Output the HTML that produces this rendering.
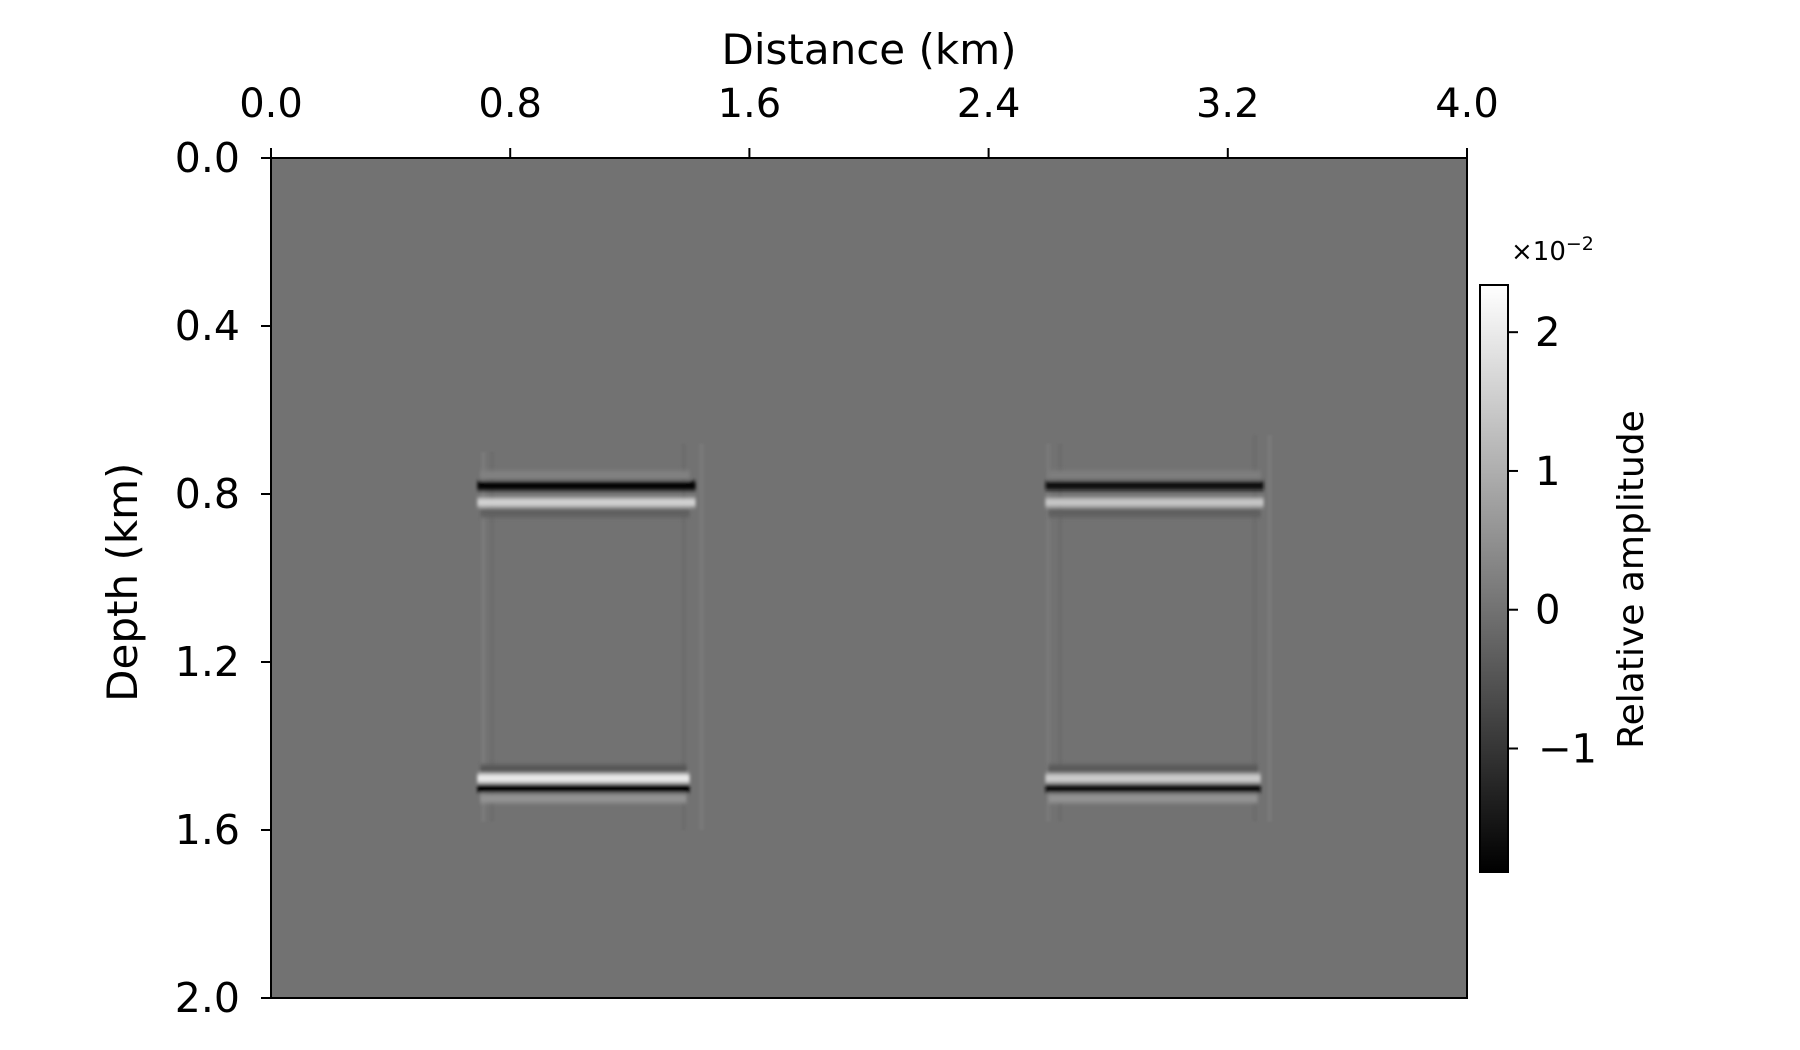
<!DOCTYPE html>
<html><head><meta charset="utf-8"><style>
html,body{margin:0;padding:0;background:#fff;}
svg{display:block;font-family:"DejaVu Sans","Liberation Sans",sans-serif;}
</style></head><body>
<svg id="chart" width="1800" height="1050" viewBox="0 0 1800 1050" xmlns="http://www.w3.org/2000/svg">
<defs>
<filter id="blur" x="-5%" y="-50%" width="110%" height="200%"><feGaussianBlur stdDeviation="1.6 2.2"/></filter>
<filter id="blur2" x="-50%" y="-5%" width="200%" height="110%"><feGaussianBlur stdDeviation="1.8 1"/></filter>
<linearGradient id="cbgrad" x1="0" y1="1" x2="0" y2="0"><stop offset="0" stop-color="#000"/><stop offset="1" stop-color="#fff"/></linearGradient>
<clipPath id="plotclip"><rect x="271" y="158" width="1196" height="840"/></clipPath>
</defs>
<g id="plot"></g>
<g id="axes"></g>
</svg>
<script>
// Data
const xTicks = [0.0, 0.8, 1.6, 2.4, 3.2, 4.0];
const yTicks = [0.0, 0.4, 0.8, 1.2, 1.6, 2.0];
const cbTicks = [2, 1, 0, -1];
const cbTickLabels = ["2", "1", "0", "\u22121"];
const vmin = -1.89, vmax = 2.34;
// reflector events: block start, end (km), depth (km), amplitude (x1e-2)
const evX0 = [0.70,0.69,0.69,0.70, 0.70,0.69,0.69,0.70, 2.60,2.59,2.59,2.60, 2.60,2.59,2.59,2.60];
const evX1 = [1.40,1.42,1.42,1.40, 1.39,1.40,1.40,1.39, 3.31,3.32,3.32,3.31, 3.30,3.31,3.31,3.30];
const evDepth = [0.755,0.78,0.82,0.845, 1.455,1.477,1.50,1.525, 0.755,0.78,0.82,0.845, 1.455,1.477,1.50,1.525];
const evAmp = [0.25,-1.85,1.6,-0.3, -0.45,2.0,-1.85,0.55, 0.2,-1.6,1.4,-0.3, -0.4,1.5,-1.6,0.55];
// faint vertical diffraction edges: x (km), top, bottom (km), amplitude
const edgeX = [0.71,0.74,1.38,1.44, 2.60,2.64,3.29,3.34];
const edgeTop = [0.70,0.70,0.68,0.68, 0.68,0.68,0.66,0.66];
const edgeBot = [1.58,1.58,1.60,1.60, 1.58,1.58,1.58,1.58];
const edgeAmp = [0.3,-0.2,-0.2,0.25, 0.25,-0.2,-0.2,0.3];

const L=271,R=1467,T=158,B=998;
const xs = v => L + (v-0)/(4-0)*(R-L);
const ys = v => T + (v-0)/(2-0)*(B-T);
const cbTop=285, cbBot=872, cbL=1480, cbR=1508;
const cs = v => cbBot - (v-vmin)/(vmax-vmin)*(cbBot-cbTop);
function gray(v){const g=Math.round(255*(v-vmin)/(vmax-vmin));return `rgb(${g},${g},${g})`;}
const NS="http://www.w3.org/2000/svg";
function mk(tag,attrs,parent){const e=document.createElementNS(NS,tag);for(const k in attrs)e.setAttribute(k,attrs[k]);parent.appendChild(e);return e;}
const plot=document.getElementById('plot'), axes=document.getElementById('axes');

const bg=mk('rect',{x:L,y:T,width:R-L,height:B-T,fill:gray(0)},plot);


const ed=mk('g',{filter:'url(#blur2)','clip-path':'url(#plotclip)'},plot);
for(let i=0;i<edgeX.length;i++){
  const r=mk('rect',{x:xs(edgeX[i])-1,y:ys(edgeTop[i]),width:2,height:ys(edgeBot[i])-ys(edgeTop[i]),fill:gray(edgeAmp[i])},ed);
  
  
}
const ev=mk('g',{filter:'url(#blur)','clip-path':'url(#plotclip)'},plot);
for(let i=0;i<evDepth.length;i++){
  const h=9;
  const r=mk('rect',{x:xs(evX0[i]),y:ys(evDepth[i])-h/2,width:xs(evX1[i])-xs(evX0[i]),height:h,fill:gray(evAmp[i])},ev);
  
  
}
const frame=mk('rect',{x:L,y:T,width:R-L,height:B-T,fill:'none',stroke:'#000','stroke-width':2},axes);


xTicks.forEach(v=>{
  mk('line',{x1:xs(v),x2:xs(v),y1:T,y2:T-10,stroke:'#000','stroke-width':2},axes);
  const t=mk('text',{x:xs(v),y:117,'font-size':40,'text-anchor':'middle'},axes);
  t.textContent=v.toFixed(1);
  
  
});
yTicks.forEach(v=>{
  mk('line',{x1:L,x2:L-10,y1:ys(v),y2:ys(v),stroke:'#000','stroke-width':2},axes);
  const t=mk('text',{x:240,y:ys(v)+14,'font-size':41,'text-anchor':'end'},axes);
  t.textContent=v.toFixed(1);
  
  
});
const xt=mk('text',{x:(L+R)/2,y:64,'font-size':42,'text-anchor':'middle'},axes);
xt.textContent='Distance (km)';


const yt=mk('text',{x:0,y:0,'font-size':42,'text-anchor':'middle',transform:`translate(137,${ys(1.01)}) rotate(-90)`},axes);
yt.textContent='Depth (km)';


// colorbar
const cb=mk('rect',{x:cbL,y:cbTop,width:cbR-cbL,height:cbBot-cbTop,fill:'url(#cbgrad)',stroke:'#000','stroke-width':2},axes);


cbTicks.forEach((v,i)=>{
  mk('line',{x1:cbR,x2:cbR+10,y1:cs(v),y2:cs(v),stroke:'#000','stroke-width':2},axes);
  const t=mk('text',{x:cbR+(v<0?30:27),y:cs(v)+14,'font-size':40},axes);
  t.textContent=cbTickLabels[i];
  
  
});
const sc=mk('text',{x:1511,y:260,'font-size':26},axes);
sc.innerHTML='×10<tspan dy="-10" font-size="19">−2</tspan>';


const ct=mk('text',{x:0,y:0,'font-size':36,'text-anchor':'middle',transform:`translate(1643,${(cbTop+cbBot)/2+1}) rotate(-90)`},axes);
ct.textContent='Relative amplitude';


</script>
</body></html>
